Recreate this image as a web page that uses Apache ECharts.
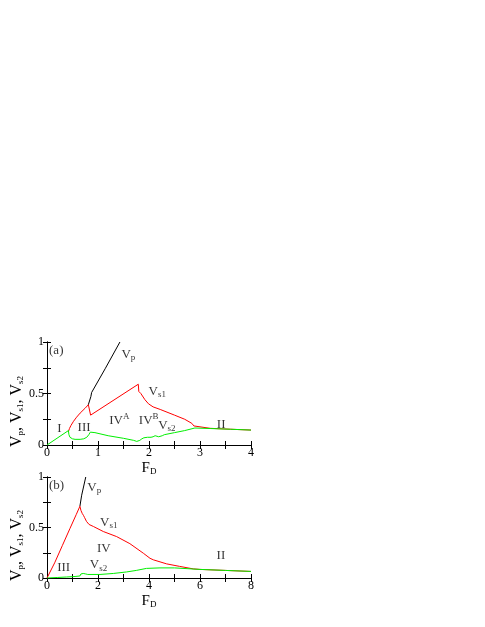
<!DOCTYPE html>
<html>
<head>
<meta charset="utf-8">
<script src="https://cdn.jsdelivr.net/npm/echarts@6/dist/echarts.min.js"></script>
<style>
  html, body { margin: 0; padding: 0; background: #fff; }
  #chart { width: 485px; height: 627px; }
</style>
</head>
<body>
<div id="chart"></div>
<script>
// panel (a): F_D from 0 to 4 (V_p coincides with V_s1 below its branch point, only the split part is drawn)
const vpA = [[0.81,0.39],[0.86,0.47],[0.875,0.51],[1.14,0.74],[1.43,1.0]];
const vs1A = [[0.42,0.13],[0.44,0.16],[0.47,0.19],[0.52,0.23],[0.58,0.27],[0.65,0.31],[0.745,0.356],[0.81,0.39],[0.82,0.37],[0.84,0.36],[0.855,0.29],[0.87,0.295],
  [1.79,0.59],[1.80,0.52],[1.84,0.5],[1.86,0.485],[1.92,0.44],[1.99,0.40],[2.08,0.37],[2.22,0.345],[2.5,0.29],[2.7,0.25],[2.84,0.21],[2.88,0.185],[2.9,0.17],[3.2,0.162],[3.6,0.153],[4,0.145]];
const vs2A = [[0,0],[0.42,0.14],[0.43,0.1],[0.45,0.075],[0.5,0.06],[0.55,0.055],[0.65,0.055],[0.72,0.06],[0.78,0.075],[0.82,0.1],[0.85,0.125],[0.88,0.13],[0.94,0.12],
  [1.2,0.09],[1.5,0.065],[1.7,0.045],[1.76,0.035],[1.79,0.05],[1.82,0.045],[1.86,0.06],[1.9,0.07],[1.93,0.06],[1.97,0.075],[2.0,0.06],[2.04,0.075],[2.08,0.08],[2.12,0.09],
  [2.15,0.1],[2.19,0.08],[2.22,0.07],[2.26,0.09],[2.3,0.1],[2.5,0.12],[2.7,0.14],[2.9,0.165],[3.2,0.16],[3.6,0.153],[4,0.145]];
// panel (b): F_D from 0 to 8
const vpB = [[1.29,0.71],[1.36,0.82],[1.52,1.0]];
const vs1B = [[0,0],[0.3,0.15],[0.6,0.32],[0.9,0.49],[1.15,0.63],[1.29,0.71],[1.33,0.67],[1.38,0.64],[1.43,0.62],[1.47,0.6],[1.55,0.56],[1.65,0.53],[1.82,0.51],
  [2.21,0.46],[2.73,0.41],[3.25,0.34],[3.78,0.245],[4.04,0.195],[4.17,0.18],[4.69,0.14],[5.2,0.115],[5.74,0.09],[6,0.085],[7,0.075],[8,0.065]];
const vs2B = [[0,0],[0.4,0.005],[0.77,0.01],[1.1,0.015],[1.29,0.02],[1.33,0.04],[1.38,0.03],[1.42,0.045],[1.47,0.03],[1.52,0.04],[1.56,0.025],[1.6,0.035],[1.65,0.03],
  [2.08,0.035],[2.6,0.045],[3.12,0.06],[3.5,0.075],[3.9,0.095],[4.43,0.1],[5,0.1],[6,0.085],[7,0.075],[8,0.065]];
// region / curve labels: [F_D, V, text]
const labelsA = [[0.04,0.92,'(a)'],[1.46,0.88,'V{sub|p}'],[1.99,0.52,'V{sub|s1}'],[0.2,0.16,'I'],[0.6,0.17,'III'],
  [1.22,0.24,'IV{sup|A}'],[1.8,0.24,'IV{sup|B}'],[2.18,0.19,'V{sub|s2}'],[3.33,0.2,'II']];
const labelsB = [[0.08,0.92,'(b)'],[1.58,0.9,'V{sub|p}'],[2.08,0.55,'V{sub|s1}'],[1.96,0.29,'IV'],[0.4,0.1,'III'],
  [1.68,0.13,'V{sub|s2}'],[6.65,0.22,'II']];

const font = 'Liberation Serif';
const rich = {
  sub: { fontSize: 9, fontFamily: font, color: '#000', verticalAlign: 'bottom', padding: [7, 0, 0, 0] },
  sup: { fontSize: 9, fontFamily: font, color: '#000', verticalAlign: 'top', padding: [0, 0, 7, 0] }
};

let chart = echarts.init(document.getElementById('chart'), null, { renderer: 'canvas' });

function xAx(idx, max, step, labelStep, top) {
  return {
    type: 'value', gridIndex: idx, min: 0, max: max, interval: step,
    position: top ? 'top' : 'bottom',
    name: top ? '' : 'F{sub|D}', nameLocation: 'middle', nameGap: 15,
    nameTextStyle: { fontFamily: font, fontSize: 15, color: '#000', rich: rich },
    axisLine: { lineStyle: { color: '#000', width: 1 } },
    axisTick: { show: true, inside: true, length: 4, lineStyle: { color: '#000' } },
    axisLabel: { show: !top, margin: 2, fontFamily: font, fontSize: 12, color: '#000',
      formatter: v => (Math.abs(v / labelStep - Math.round(v / labelStep)) < 1e-6 ? String(v) : '') },
    splitLine: { show: false }
  };
}
function yAx(idx, right) {
  return {
    type: 'value', gridIndex: idx, min: 0, max: 1, interval: 0.25,
    position: right ? 'right' : 'left',
    name: right ? '' : 'V{sub|p}, V{sub|s1}, V{sub|s2}', nameLocation: 'middle', nameGap: 21, nameRotate: 90,
    nameTextStyle: { fontFamily: font, fontSize: 16, color: '#000', rich: rich, padding: [0, 36, 0, 0] },
    axisLine: { lineStyle: { color: '#000', width: 1 } },
    axisTick: { show: true, inside: true, length: 4, lineStyle: { color: '#000' } },
    axisLabel: { show: !right, margin: 3, fontFamily: font, fontSize: 12, color: '#000',
      formatter: v => (Math.abs(v * 2 - Math.round(v * 2)) < 1e-6 ? String(v) : '') },
    splitLine: { show: false }
  };
}
function line(data, color, xi, yi) {
  return { type: 'line', data: data, xAxisIndex: xi, yAxisIndex: yi, showSymbol: false, symbol: 'none',
    lineStyle: { color: color, width: 1 }, clip: true, animation: false, silent: true };
}
function labels(list, xi, yi) {
  return {
    type: 'scatter', xAxisIndex: xi, yAxisIndex: yi, symbolSize: 0, animation: false, silent: true,
    data: list.map(d => ({ value: [d[0], d[1]], name: d[2] })),
    label: { show: true, position: 'right', distance: 0, fontFamily: font, fontSize: 13, color: '#000',
      formatter: p => p.name, rich: rich }
  };
}

chart.setOption({
  backgroundColor: '#fff',
  animation: false,
  grid: [
    { left: 47, top: 342, width: 204, height: 103 },
    { left: 47, top: 477, width: 204, height: 101 }
  ],
  xAxis: [xAx(0, 4, 0.5, 1, false), xAx(0, 4, 0.5, 1, true), xAx(1, 8, 1, 2, false), xAx(1, 8, 1, 2, true)],
  yAxis: [yAx(0, false), yAx(0, true), yAx(1, false), yAx(1, true)],
  series: [
    line(vpA, '#000000', 0, 0), line(vs1A, '#ff0000', 0, 0), line(vs2A, '#00ee00', 0, 0), labels(labelsA, 0, 0),
    line(vpB, '#000000', 2, 2), line(vs1B, '#ff0000', 2, 2), line(vs2B, '#00ee00', 2, 2), labels(labelsB, 2, 2)
  ]
});
</script>
</body>
</html>
